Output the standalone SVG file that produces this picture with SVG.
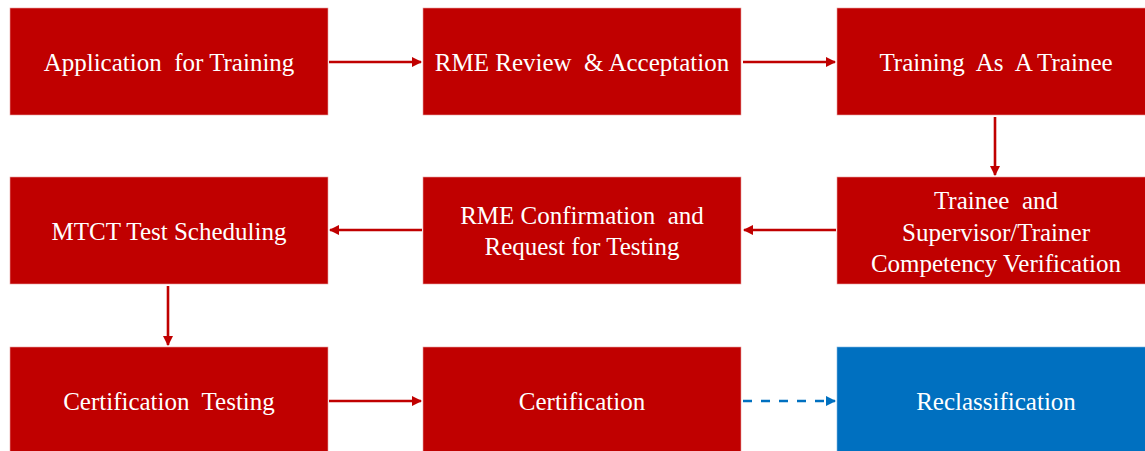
<svg xmlns="http://www.w3.org/2000/svg" width="1145" height="451" viewBox="0 0 1145 451">
  <style>
    .box { fill: #C00000; stroke: #E8A0A0; stroke-width: 0.6; }
    .box.blue { fill: #0070C0; stroke: #7FB5E0; }
    .lbl { fill: #FFFFFF; font-family: "Liberation Serif", "Times New Roman", serif; font-size: 25px; text-anchor: middle; white-space: pre; }
    .flow { stroke: #C00000; stroke-width: 2.6; fill: none; }
    .flow.dash { stroke: #0070C0; stroke-dasharray: 9 9; }
  </style>
  <defs>
    <marker id="headRed" viewBox="0 0 10 10" refX="9" refY="5" markerWidth="4" markerHeight="4" orient="auto" markerUnits="strokeWidth">
      <path d="M0,0 L10,5 L0,10 z" fill="#C00000"/>
    </marker>
    <marker id="headBlue" viewBox="0 0 10 10" refX="9" refY="5" markerWidth="4" markerHeight="4" orient="auto" markerUnits="strokeWidth">
      <path d="M0,0 L10,5 L0,10 z" fill="#0070C0"/>
    </marker>
  </defs>

  <rect width="1145" height="451" fill="#FFFFFF"/>

  <!-- row 1 -->
  <g id="application">
    <rect class="box" x="10" y="8" width="318" height="107"/>
    <text class="lbl" x="169" y="71" xml:space="preserve">Application  for Training</text>
  </g>
  <g id="rme-review">
    <rect class="box" x="423" y="8" width="318" height="107"/>
    <text class="lbl" x="582" y="71" xml:space="preserve">RME Review  &amp; Acceptation</text>
  </g>
  <g id="training">
    <rect class="box" x="837" y="8" width="318" height="107"/>
    <text class="lbl" x="996" y="71" xml:space="preserve">Training  As  A Trainee</text>
  </g>

  <!-- row 2 -->
  <g id="mtct-scheduling">
    <rect class="box" x="10" y="177" width="318" height="107"/>
    <text class="lbl" x="169" y="240">MTCT Test Scheduling</text>
  </g>
  <g id="rme-confirmation">
    <rect class="box" x="423" y="177" width="318" height="107"/>
    <text class="lbl" x="582" y="224">RME Confirmation  and</text>
    <text class="lbl" x="582" y="255">Request for Testing</text>
  </g>
  <g id="competency-verification">
    <rect class="box" x="837" y="177" width="318" height="107"/>
    <text class="lbl" x="996" y="209">Trainee  and</text>
    <text class="lbl" x="996" y="241">Supervisor/Trainer</text>
    <text class="lbl" x="996" y="272">Competency Verification</text>
  </g>

  <!-- row 3 -->
  <g id="certification-testing">
    <rect class="box" x="10" y="347" width="318" height="110"/>
    <text class="lbl" x="169" y="410" xml:space="preserve">Certification  Testing</text>
  </g>
  <g id="certification">
    <rect class="box" x="423" y="347" width="318" height="110"/>
    <text class="lbl" x="582" y="410">Certification</text>
  </g>
  <g id="reclassification">
    <rect class="box blue" x="837" y="347" width="318" height="110"/>
    <text class="lbl" x="996" y="410">Reclassification</text>
  </g>

  <!-- connectors -->
  <g id="connectors">
    <line class="flow" x1="329" y1="62" x2="421" y2="62" marker-end="url(#headRed)"/>
    <line class="flow" x1="743" y1="62" x2="835" y2="62" marker-end="url(#headRed)"/>
    <line class="flow" x1="995" y1="117" x2="995" y2="175" marker-end="url(#headRed)"/>
    <line class="flow" x1="836" y1="230" x2="744" y2="230" marker-end="url(#headRed)"/>
    <line class="flow" x1="422" y1="230" x2="330" y2="230" marker-end="url(#headRed)"/>
    <line class="flow" x1="168" y1="286" x2="168" y2="345" marker-end="url(#headRed)"/>
    <line class="flow" x1="329" y1="401" x2="421" y2="401" marker-end="url(#headRed)"/>
    <line class="flow dash" x1="743" y1="401" x2="835" y2="401" marker-end="url(#headBlue)"/>
  </g>
</svg>
